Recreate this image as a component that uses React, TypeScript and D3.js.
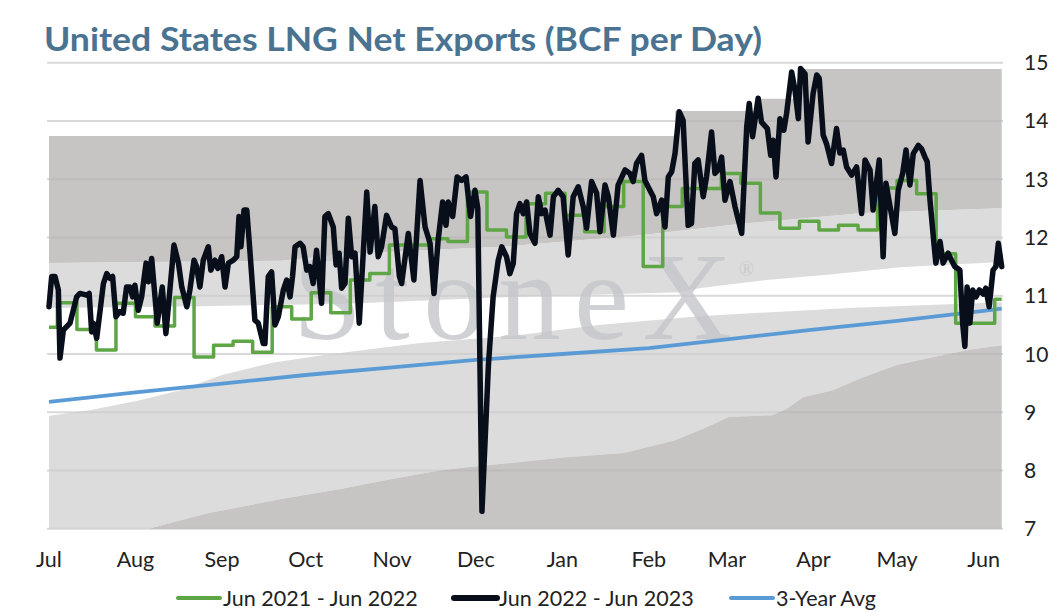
import React from 'react';
import * as d3 from 'd3';

// ---------- data ----------
const seasonStart = new Date(2022, 6, 1);
const seasonEnd = new Date(2023, 6, 1);
const lastDay = 341.5; // days after Jul 1 shown on the axis

const titleText = 'United States LNG Net Exports (BCF per Day)';
const yTickValues = [7, 8, 9, 10, 11, 12, 13, 14, 15];
const seriesNames = ['Jun 2021 - Jun 2022', 'Jun 2022 - Jun 2023', '3-Year Avg'];
const seriesColors = ['#5ea545', '#080e1a', '#5b9bd5'];

// Jun 2022 - Jun 2023 (daily) : [day after Jul 1, BCF/d]
const current: [number, number][] = [
  [0, 10.81], [0.96, 11.33], [2.15, 11.33], [3.35, 11.1], [3.94, 9.93], [5.14, 10.41], [7.53, 10.53],
  [9.92, 10.98], [11.1, 11.04], [13.5, 11.01], [14.4, 11.04], [15.3, 10.38], [15.9, 10.53], [17.1, 10.27],
  [19.5, 11.21], [20.7, 11.38], [21.9, 11.3], [22.8, 11.33], [24.0, 10.64], [25.4, 10.73], [26.6, 10.7],
  [27.8, 11.15], [29.0, 11.15], [30.0, 10.98], [30.8, 11.18], [32.0, 10.75], [33.2, 10.98], [34.8, 11.56],
  [35.6, 11.24], [36.8, 11.64], [38.8, 10.53], [40.6, 11.15], [41.9, 10.35], [43.1, 10.98], [44.8, 11.87],
  [46.4, 11.56], [47.6, 11.15], [49.4, 10.81], [50.5, 11.1], [52.0, 11.61], [52.9, 11.5], [54.1, 11.15],
  [55.3, 11.61], [57.1, 11.84], [58.0, 11.44], [59.5, 11.61], [60.5, 11.47], [61.9, 11.67], [63.1, 11.15],
  [64.3, 11.56], [66.1, 11.61], [67.3, 11.67], [68.1, 12.36], [68.8, 11.84], [69.9, 12.47], [70.9, 12.47],
  [72.0, 11.78], [73.8, 10.58], [75.0, 10.53], [76.8, 10.18], [77.4, 10.18], [78.6, 11.33], [79.8, 11.41],
  [81.0, 10.5], [82.2, 10.64], [84.0, 11.1], [85.2, 11.27], [86.4, 10.98], [87.3, 11.33], [88.2, 11.84],
  [90.0, 11.9], [91.1, 11.84], [92.4, 11.44], [93.5, 11.5], [94.7, 11.21], [95.9, 11.78], [97.7, 10.87],
  [98.9, 12.36], [100.1, 12.41], [101.9, 12.18], [102.9, 11.53], [104.0, 11.73], [104.9, 11.13], [106.1, 11.21],
  [107.3, 12.33], [108.5, 11.67], [109.7, 11.73], [111.2, 10.53], [113.9, 12.78], [115.1, 11.75], [116.8, 12.53],
  [118.0, 11.67], [119.2, 11.84], [121.0, 12.38], [122.8, 12.18], [124.0, 12.15], [125.6, 11.33], [126.4, 11.21],
  [128.8, 12.07], [130.8, 11.27], [133.0, 12.98], [134.8, 12.18], [136.6, 11.9], [138.0, 11.04], [139.5, 11.96],
  [141.1, 12.61], [142.3, 12.21], [143.1, 12.61], [144.7, 12.36], [146.3, 13.04], [147.9, 12.98], [149.5, 13.04],
  [151.1, 12.36], [152.7, 12.81], [153.7, 12.5], [155.2, 7.3], [157.5, 9.8], [159.2, 10.98], [161.0, 11.6],
  [162.3, 11.84], [164.0, 11.67], [165.2, 11.38], [166.4, 11.55], [167.6, 12.41], [168.8, 12.58], [170.0, 12.41],
  [171.2, 12.61], [172.4, 12.07], [174.2, 11.9], [175.4, 12.7], [176.6, 12.41], [177.8, 12.47], [179.6, 12.04],
  [180.8, 12.7], [182.5, 12.81], [184.3, 12.7], [186.1, 11.7], [187.9, 12.7], [189.7, 12.87], [191.5, 12.53],
  [192.7, 12.16], [194.5, 12.96], [196.3, 12.76], [197.5, 12.1], [199.3, 12.9], [200.5, 12.7], [202.3, 12.04],
  [204.0, 12.9], [206.5, 13.16], [208.2, 13.1], [209.4, 12.96], [210.6, 13.27], [212.4, 13.41], [213.6, 12.98],
  [215.4, 12.81], [216.6, 12.7], [217.8, 12.41], [219.6, 12.64], [220.8, 12.18], [222.0, 13.04], [223.2, 13.13],
  [224.4, 13.44], [225.9, 14.16], [227.3, 14.01], [229.1, 12.21], [230.3, 12.24], [231.5, 13.27], [232.7, 13.33],
  [234.5, 12.7], [235.7, 13.04], [237.5, 13.81], [238.7, 13.1], [239.9, 13.16], [241.1, 13.38], [242.3, 12.64],
  [244.1, 12.96], [245.9, 12.53], [248.3, 12.07], [250.1, 13.9], [251.0, 14.3], [252.2, 13.73], [254.2, 14.39],
  [255.4, 13.98], [257.5, 13.87], [258.7, 13.41], [259.6, 13.67], [260.6, 13.04], [262.0, 14.04], [263.4, 13.84],
  [264.4, 14.13], [266.2, 14.84], [267.4, 14.53], [268.6, 14.04], [269.4, 14.9], [271.0, 14.81], [272.1, 13.64],
  [273.9, 14.47], [275.2, 14.79], [276.1, 14.73], [277.5, 13.76], [278.7, 13.61], [280.5, 13.27], [282.3, 13.87],
  [283.5, 13.45], [284.7, 13.5], [285.9, 13.21], [287.7, 13.07], [289.5, 13.21], [291.3, 12.41], [292.5, 13.33],
  [294.3, 13.16], [295.4, 12.47], [297.6, 13.33], [299.0, 11.67], [300.0, 12.93], [301.7, 12.47], [303.2, 12.07],
  [304.4, 12.81], [306.0, 13.1], [307.2, 13.5], [308.6, 12.9], [309.8, 13.44], [311.6, 13.58], [312.8, 13.52],
  [314.0, 13.38], [314.8, 13.3], [315.8, 12.64], [317.2, 11.9], [317.9, 11.56], [319.4, 11.93], [320.5, 11.56],
  [322.3, 11.73], [323.5, 11.61], [324.7, 11.5], [326.5, 11.44], [327.5, 10.53], [328.3, 10.13], [329.1, 11.15],
  [330.1, 10.53], [331.1, 11.1], [332.3, 10.98], [333.5, 11.1], [334.9, 11.03], [335.8, 11.13], [337.0, 10.81],
  [338.4, 11.44], [339.4, 11.5], [340.3, 11.9], [341.5, 11.5],
];

// Jun 2021 - Jun 2022 (weekly, held flat until the next week)
const prevWeekStarts = [0, 3, 10, 17, 24, 31, 38, 45, 52, 59, 66, 73, 80, 87, 94, 101, 108, 115, 122, 129, 136, 143,
  150, 157, 164, 171, 178, 185, 192, 199, 206, 213, 220, 227, 234, 241, 248, 255, 262, 269, 276, 283, 290, 297,
  304, 311, 318, 325, 332, 339];
const prevValues = [10.46, 10.88, 10.42, 10.07, 10.87, 10.64, 10.48, 10.97, 9.95, 10.15, 10.22, 10.03, 10.81, 10.6,
  11.05, 10.71, 11.27, 11.38, 11.87, 11.87, 11.98, 11.93, 12.78, 12.13, 12.01, 12.58, 12.76, 12.38, 12.1, 12.53,
  12.96, 11.5, 12.53, 12.84, 12.84, 13.1, 12.93, 12.42, 12.16, 12.28, 12.13, 12.21, 12.13, 12.85, 12.98, 12.75,
  11.72, 10.53, 10.53, 10.94];

// 3-year average
const avgDays = [0, 31, 62, 92, 123, 153, 184, 215, 243, 274, 304, 335, 341.5];
const avgValues = [9.18, 9.34, 9.49, 9.64, 9.77, 9.9, 10.0, 10.1, 10.25, 10.42, 10.57, 10.74, 10.78];

// historical range bands
const rangeMax: [number, number][] = [[0, 13.74], [224.4, 14.17], [254.8, 14.38], [269.5, 14.89], [341.5, 14.89]];
const rangeUpper: [number, number][] = [[0, 11.56], [83, 11.6], [111, 11.73], [162, 11.84], [212, 12.04], [249, 12.24], [292, 12.42], [341.5, 12.5]];
const rangeHighMid: [number, number][] = [[0, 10.79], [54, 10.82], [104, 10.86], [166, 10.98], [226, 11.06], [233, 11.13], [257, 11.27], [281, 11.37], [305, 11.49], [341.5, 11.58]];
const rangeLowMid: [number, number][] = [[0, 8.94], [15, 9.04], [33, 9.21], [47, 9.38], [62, 9.64], [80, 9.85], [98, 9.98], [133, 10.19], [166, 10.31], [197, 10.5], [233, 10.65], [287, 10.79], [341.5, 10.89]];
const rangeMin: [number, number][] = [[0, 7], [36.2, 7], [38, 7.03], [57.3, 7.27], [83.2, 7.51], [104, 7.68], [121.5, 7.84], [137.3, 7.98],
  [148.7, 8.05], [169.5, 8.15], [185.3, 8.23], [206, 8.3], [224.4, 8.52], [235.1, 8.73], [243.7, 8.92], [259.1, 8.95],
  [264.2, 9.05], [270.3, 9.26], [281, 9.38], [290.7, 9.58], [303.9, 9.81], [317.2, 9.95], [329.4, 10.07], [341.5, 10.15]];
const rangeFloor: [number, number][] = [[0, 7], [341.5, 7]];

// ---------- chart ----------
const W = 1058;
const H = 613;
const font = "Lato, 'Open Sans', 'DejaVu Sans', sans-serif";
const serif = "'Liberation Serif', 'DejaVu Serif', serif";

const x = d3.scaleLinear().domain([0, lastDay]).range([49, 1001.7]);
const y = d3.scaleLinear().domain([7, 15]).range([528.8, 62.7]);

const toPts = (s: [number, number][]) => s.map((p) => [x(p[0]), y(p[1])] as [number, number]);
const stepExpand = (s: [number, number][]) => {
  const out: [number, number][] = [];
  s.forEach((p, i) => {
    out.push(p);
    if (i < s.length - 1) out.push([s[i + 1][0], p[1]]);
  });
  return out;
};
const band = (top: [number, number][], bottom: [number, number][]) =>
  (d3.line()([...toPts(top), ...toPts(bottom).reverse()]) || '') + 'Z';

export default function App() {
  const months = d3.timeMonth.range(seasonStart, seasonEnd);
  const fmt = d3.timeFormat('%b');

  const lineXY = d3.line<[number, number]>().x((d) => x(d[0])).y((d) => y(d[1]));
  const prevSeries: [number, number][] = prevWeekStarts.map((d, i) => [d, prevValues[i]]);
  prevSeries.push([lastDay, prevValues[prevValues.length - 1]]);
  const prevPath = d3.line<[number, number]>().x((d) => x(d[0])).y((d) => y(d[1])).curve(d3.curveStepAfter)(prevSeries) || '';
  const avgSeries: [number, number][] = avgDays.map((d, i) => [d, avgValues[i]]);

  const dark = 'rgb(179,178,175)';
  const light = 'rgb(205,205,205)';

  const legendItems = [
    { x1: 178, x2: 220, tx: 223, w: 4 },
    { x1: 454, x2: 497, tx: 499, w: 6 },
    { x1: 731, x2: 773, tx: 776, w: 4 },
  ];

  return (
    <svg width={W} height={H} style={{ position: 'absolute', left: 0, top: 0, background: '#fff' }}>
      <rect width={W} height={H} fill="#fff" />
      <text x={44} y={50.5} fontFamily={font} fontWeight={700} fontSize={33} fill="#4a7291"
        textLength={718} lengthAdjust="spacingAndGlyphs">{titleText}</text>

      {/* gridlines */}
      {yTickValues.map((t) => (
        <line key={t} x1={47} x2={1003} y1={y(t)} y2={y(t)} stroke="#d9d9d9" strokeWidth={2} />
      ))}

      {/* range bands */}
      <path d={band(stepExpand(rangeMax), rangeUpper)} fill={dark} fillOpacity={0.75} />
      <path d={band(rangeUpper, rangeHighMid)} fill={light} fillOpacity={0.7} />
      <path d={band(rangeLowMid, rangeMin)} fill={light} fillOpacity={0.7} />
      <path d={band(rangeMin, rangeFloor)} fill={dark} fillOpacity={0.75} />

      {/* watermark */}
      <text x={293} y={339} fontFamily={serif} fontSize={124}
        textLength={439} lengthAdjust="spacing" fill="#c4c5c9" fillOpacity={0.8}>StoneX</text>
      <text x={739} y={276} fontFamily={serif} fontSize={20}
        fill="#c4c5c9" fillOpacity={0.8}>®</text>

      {/* series */}
      <path d={lineXY(avgSeries) || ''} fill="none" stroke={seriesColors[2]} strokeWidth={3.8} strokeLinejoin="round" />
      <path d={prevPath} fill="none" stroke={seriesColors[0]} strokeWidth={3.5} strokeLinejoin="round" />
      <path d={lineXY(current) || ''} fill="none" stroke={seriesColors[1]} strokeWidth={5.5}
        strokeLinejoin="round" strokeLinecap="round" />

      {/* right axis labels */}
      {yTickValues.map((t) => (
        <text key={t} x={1024} y={y(t) + 7.5} fontFamily={font} fontSize={21} fill="#222">{t}</text>
      ))}

      {/* month labels */}
      {months.map((m) => (
        <text key={m.toISOString()} x={x(d3.timeDay.count(seasonStart, m))} y={567} textAnchor="middle"
          fontFamily={font} fontSize={21.5} fill="#222">{fmt(m)}</text>
      ))}

      {/* legend */}
      {legendItems.map((it, i) => (
        <g key={i}>
          <line x1={it.x1} x2={it.x2} y1={598} y2={598} stroke={seriesColors[i]} strokeWidth={it.w} strokeLinecap="round" />
          <text x={it.tx} y={605.5} fontFamily={font} fontSize={21.5} fill="#222">{seriesNames[i]}</text>
        </g>
      ))}
    </svg>
  );
}
